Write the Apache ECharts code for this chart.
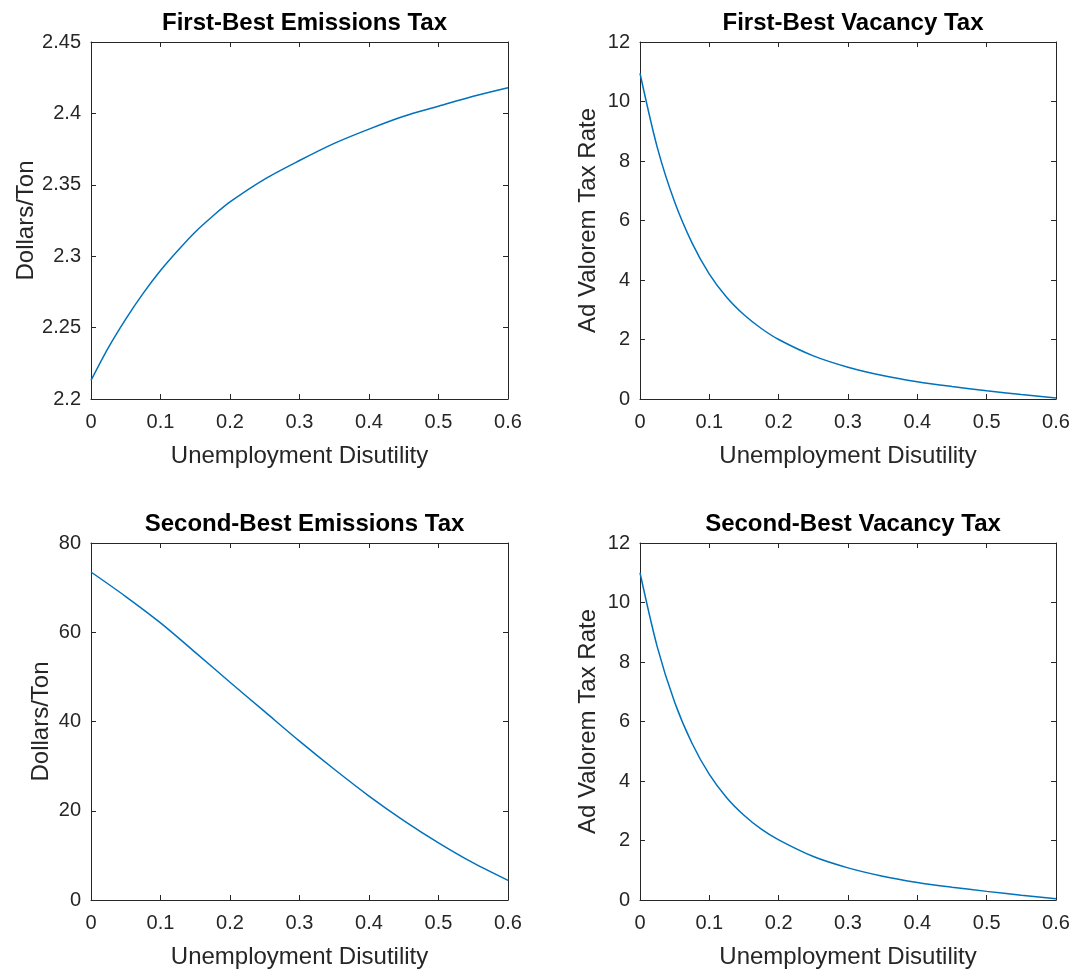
<!DOCTYPE html>
<html>
<head>
<meta charset="utf-8">
<title>Optimal Taxes vs Unemployment Disutility</title>
<script src="https://cdn.jsdelivr.net/npm/echarts@6/dist/echarts.min.js"></script>
<style>
  html, body { margin: 0; padding: 0; background: #ffffff; }
  #chart { width: 1077px; height: 973px; }
</style>
</head>
<body>
<div id="chart"></div>
<script>
// Unemployment disutility grid (fine spacing near zero where curves bend most)
const disutilityFine = [0, 0.025, 0.05, 0.075, 0.1, 0.125, 0.15, 0.175, 0.2, 0.25, 0.3, 0.35, 0.4, 0.45, 0.5, 0.55, 0.6];
const disutilityCoarse = [0, 0.05, 0.1, 0.15, 0.2, 0.25, 0.3, 0.35, 0.4, 0.45, 0.5, 0.55, 0.6];

// First-best emissions tax (dollars/ton), on disutilityFine
const firstBestEmissions = [2.213, 2.236, 2.256, 2.274, 2.290, 2.304, 2.317, 2.328, 2.338, 2.354, 2.367, 2.379, 2.389, 2.398, 2.405, 2.412, 2.418];
// First-best vacancy tax (ad valorem rate), on disutilityFine
const firstBestVacancy = [10.95, 8.45, 6.62, 5.25, 4.2, 3.42, 2.83, 2.37, 2.0, 1.45, 1.07, 0.79, 0.58, 0.42, 0.28, 0.15, 0.03];
// Second-best emissions tax (dollars/ton), on disutilityCoarse
const secondBestEmissions = [73.5, 68.0, 62.1, 55.5, 48.8, 42.2, 35.6, 29.3, 23.3, 17.8, 12.8, 8.3, 4.4];
// Second-best vacancy tax (ad valorem rate), on disutilityFine
const secondBestVacancy = [11.0, 8.5, 6.65, 5.27, 4.22, 3.44, 2.85, 2.38, 2.02, 1.46, 1.08, 0.80, 0.59, 0.43, 0.29, 0.16, 0.04];

const panelTitles = ['First-Best Emissions Tax', 'First-Best Vacancy Tax', 'Second-Best Emissions Tax', 'Second-Best Vacancy Tax'];
const yAxisNames = ['Dollars/Ton', 'Ad Valorem Tax Rate', 'Dollars/Ton', 'Ad Valorem Tax Rate'];
const xAxisName = 'Unemployment Disutility';

const yRanges = [
  { min: 2.2, max: 2.45, interval: 0.05 },
  { min: 0, max: 12, interval: 2 },
  { min: 0, max: 80, interval: 20 },
  { min: 0, max: 12, interval: 2 }
];
const xRange = { min: 0, max: 0.6, interval: 0.1 };

const panelX = [disutilityFine, disutilityFine, disutilityCoarse, disutilityFine];
const panelY = [firstBestEmissions, firstBestVacancy, secondBestEmissions, secondBestVacancy];

// Panel layout
const grids = [
  { left: 91, top: 42, width: 417, height: 357 },
  { left: 640, top: 42, width: 416, height: 357 },
  { left: 91, top: 543, width: 417, height: 357 },
  { left: 640, top: 543, width: 416, height: 357 }
];
const yNameGaps = [45, 40, 38, 40];

const FONT = 'Liberation Sans, Arial, Helvetica, sans-serif';
const AXIS_COLOR = '#262626';
const LINE_COLOR = '#0072BD';

const axisLine = { show: true, onZero: false, lineStyle: { color: AXIS_COLOR, width: 1 } };
const axisTick = { show: true, inside: true, length: 5, lineStyle: { color: AXIS_COLOR, width: 1 } };

const option = {
  animation: false,
  backgroundColor: '#ffffff',
  title: [],
  grid: [],
  xAxis: [],
  yAxis: [],
  series: []
};

grids.forEach((g, i) => {
  option.grid.push(Object.assign({ containLabel: false, show: false }, g));
  option.title.push({
    text: panelTitles[i],
    left: g.left + g.width / 2,
    top: g.top - 36,
    textAlign: 'center',
    textStyle: { fontFamily: FONT, fontSize: 24, fontWeight: 'bold', color: '#000000' }
  });

  // bottom x axis with labels
  option.xAxis.push(Object.assign({
    type: 'value', gridIndex: i, position: 'bottom',
    name: xAxisName, nameLocation: 'middle', nameGap: 45,
    nameTextStyle: { fontFamily: FONT, fontSize: 24, color: AXIS_COLOR },
    axisLine, axisTick,
    axisLabel: { fontFamily: FONT, fontSize: 20, color: AXIS_COLOR, margin: 13 },
    splitLine: { show: false }
  }, xRange));
  // top x axis: box edge and ticks only
  option.xAxis.push(Object.assign({
    type: 'value', gridIndex: i, position: 'top',
    axisLine, axisTick, axisLabel: { show: false }, splitLine: { show: false }
  }, xRange));

  // left y axis with labels
  option.yAxis.push(Object.assign({
    type: 'value', gridIndex: i, position: 'left',
    name: yAxisNames[i], nameLocation: 'middle', nameGap: yNameGaps[i], nameRotate: 90,
    nameTextStyle: { fontFamily: FONT, fontSize: 24, color: AXIS_COLOR },
    axisLine, axisTick,
    axisLabel: { fontFamily: FONT, fontSize: 20, color: AXIS_COLOR, margin: 10 },
    splitLine: { show: false }
  }, yRanges[i]));
  // right y axis: box edge and ticks only
  option.yAxis.push(Object.assign({
    type: 'value', gridIndex: i, position: 'right',
    axisLine, axisTick, axisLabel: { show: false }, splitLine: { show: false }
  }, yRanges[i]));

  option.series.push({
    type: 'line',
    xAxisIndex: 2 * i,
    yAxisIndex: 2 * i,
    data: panelX[i].map((x, k) => [x, panelY[i][k]]),
    showSymbol: false,
    smooth: 0.3,
    clip: true,
    lineStyle: { color: LINE_COLOR, width: 1.5 }
  });
});

const chart = echarts.init(document.getElementById('chart'), null, { renderer: 'canvas' });
chart.setOption(option);
</script>
</body>
</html>
